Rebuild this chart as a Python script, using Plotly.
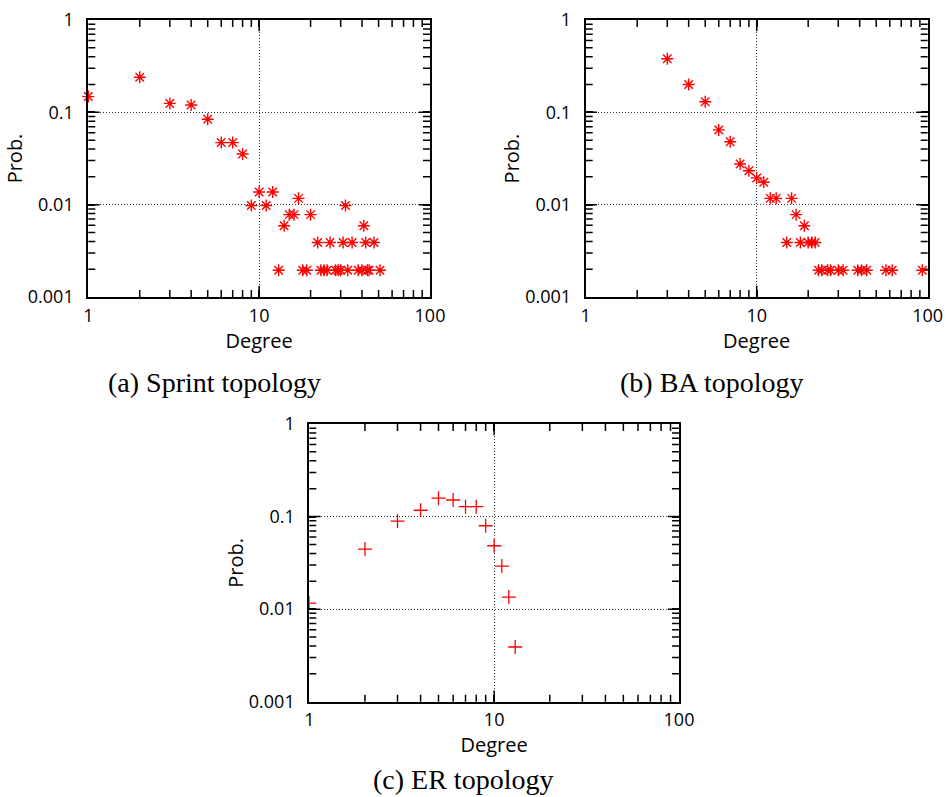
import plotly.graph_objects as go

# ---- data ----
sprint_degree = [1, 2, 3, 4, 5, 6, 7, 8, 9, 10, 11, 12, 13, 14, 15, 16, 17, 18, 19, 20,
                 22, 23, 24, 25, 26, 28, 29, 30, 31, 32, 33, 35, 38, 40, 41, 42, 43, 44, 47, 51]
sprint_prob = [0.148, 0.24, 0.125, 0.12, 0.084, 0.047, 0.047, 0.0354, 0.0098, 0.0137,
               0.0098, 0.0137, 0.00195, 0.0059, 0.0078, 0.0078, 0.0117, 0.00195, 0.00195, 0.0078,
               0.0039, 0.00195, 0.00195, 0.00195, 0.0039, 0.00195, 0.00195, 0.00195, 0.0039, 0.0098,
               0.00195, 0.0039, 0.00195, 0.00195, 0.0059, 0.0039, 0.00195, 0.00195, 0.0039, 0.00195]

ba_degree = [3, 4, 5, 6, 7, 8, 9, 10, 11, 12, 13, 15, 16, 17, 18, 19, 20, 21, 22,
             23, 24, 26, 27, 30, 32, 39, 41, 44, 57, 62, 93]
ba_prob = [0.38, 0.2, 0.13, 0.0645, 0.048, 0.0276, 0.0233, 0.0195, 0.0175, 0.0117, 0.0117,
           0.0039, 0.0117, 0.0078, 0.0039, 0.0059, 0.0039, 0.0039, 0.0039,
           0.00195, 0.00195, 0.00195, 0.00195, 0.00195, 0.00195, 0.00195, 0.00195, 0.00195,
           0.00195, 0.00195, 0.00195]

er_degree = [1, 2, 3, 4, 5, 6, 7, 8, 9, 10, 11, 12, 13]
er_prob = [0.0116, 0.0446, 0.0894, 0.117, 0.158, 0.151, 0.128, 0.128, 0.0796, 0.0484,
           0.0292, 0.0135, 0.0039]

x_tickvals = [1, 10, 100]
x_ticktext = ["1", "10", "100"]
y_tickvals = [0.001, 0.01, 0.1, 1]
y_ticktext = ["0.001", "0.01", "0.1", "1"]
captions = ["(a) Sprint topology", "(b) BA topology", "(c) ER topology"]

# minor (unlabelled) ticks at 2..9 within each decade
x_minor = [m * 10 ** e for e in range(0, 2) for m in range(2, 10)]
y_minor = [m * 10.0 ** e for e in range(-3, 0) for m in range(2, 10)]

W, H = 946, 797
RED = "#ff0000"
SANS = "Open Sans"


def px_x(a, b):
    return [a / W, b / W]


def px_y(top, bottom):
    return [1 - bottom / H, 1 - top / H]


fig = go.Figure()

star = dict(symbol="asterisk-open", size=10, color=RED, line=dict(color=RED, width=1.4))
plus = dict(symbol="cross-thin-open", size=10, color=RED, line=dict(color=RED, width=1.3))

series = [(sprint_degree, sprint_prob, star, False),
          (ba_degree, ba_prob, star, False),
          (er_degree, er_prob, plus, True)]


def tick_marks(sfx):
    """Inward tick marks on all four sides, drawn on the panel's own log scales
    and clipped at the frame so only the inner half of each marker shows."""
    out = []
    x_major_in = x_tickvals[1:-1]
    y_major_in = y_tickvals[1:-1]
    for y_edge in (y_tickvals[0], y_tickvals[-1]):
        for xs, size in ((x_minor, 10), (x_major_in, 16)):
            out.append(go.Scatter(
                x=xs, y=[y_edge] * len(xs), mode="markers", cliponaxis=True,
                xaxis="x" + sfx, yaxis="y" + sfx, hoverinfo="skip",
                marker=dict(symbol="line-ns-open", size=size, color="black",
                            line=dict(color="black", width=1.5))))
    for x_edge in (x_tickvals[0], x_tickvals[-1]):
        for ys, size in ((y_minor, 10), (y_major_in, 16)):
            out.append(go.Scatter(
                x=[x_edge] * len(ys), y=ys, mode="markers", cliponaxis=True,
                xaxis="x" + sfx, yaxis="y" + sfx, hoverinfo="skip",
                marker=dict(symbol="line-ew-open", size=size, color="black",
                            line=dict(color="black", width=1.5))))
    return out


for i, (deg, prob, mk, clip) in enumerate(series):
    sfx = "" if i == 0 else str(i + 1)
    for t in tick_marks(sfx):
        fig.add_trace(t)
    fig.add_trace(go.Scatter(x=deg, y=prob, mode="markers", marker=mk,
                             xaxis="x" + sfx, yaxis="y" + sfx, cliponaxis=clip))

common = dict(
    type="log", showline=True, linecolor="black", linewidth=2, mirror="allticks",
    ticks="inside", ticklen=7, tickwidth=1.5, tickcolor="black",
    showgrid=True, gridcolor="#333333", griddash="1px,2px", gridwidth=1,
    zeroline=False, tickfont=dict(family=SANS, size=18, color="black"), automargin=False,
)


def xax(domain, anchor):
    return dict(common, domain=domain, anchor=anchor, range=[0, 2],
                tickmode="array", tickvals=x_tickvals, ticktext=x_ticktext,
                ticklabelstandoff=1,
                title=dict(text="Degree", font=dict(family=SANS, size=20, color="black"),
                           standoff=1))


def yax(domain, anchor):
    return dict(common, domain=domain, anchor=anchor, range=[-3, 0],
                tickmode="array", tickvals=y_tickvals, ticktext=y_ticktext,
                ticklabelstandoff=9,
                title=dict(text="Prob.", font=dict(family=SANS, size=20, color="black"),
                           standoff=0))


fig.update_layout(
    width=W, height=H, margin=dict(l=0, r=0, t=0, b=0),
    paper_bgcolor="white", plot_bgcolor="white", showlegend=False,
    xaxis=xax(px_x(88.3, 430), "y"), yaxis=yax(px_y(20, 297), "x"),
    xaxis2=xax(px_x(585.7, 927.7), "y2"), yaxis2=yax(px_y(20, 297), "x2"),
    xaxis3=xax(px_x(309.3, 679), "y3"), yaxis3=yax(px_y(424, 701.7), "x3"),
)

cap_pos = [(214, 382), (712, 382), (463, 779)]
for text, (cx, cy) in zip(captions, cap_pos):
    fig.add_annotation(text=text, x=cx / W, y=1 - cy / H, xref="paper", yref="paper",
                       xanchor="center", yanchor="middle", showarrow=False,
                       font=dict(family="Liberation Serif", size=28, color="black"))

fig.write_html("out.html")
